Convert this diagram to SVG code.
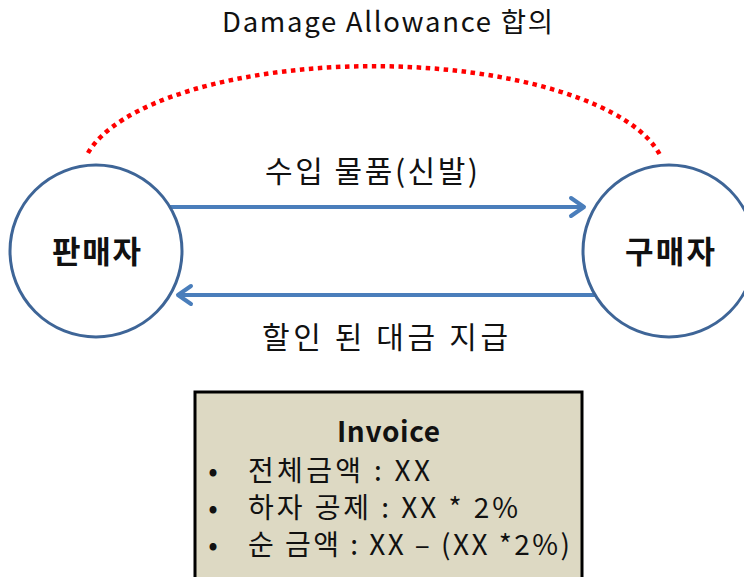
<svg xmlns="http://www.w3.org/2000/svg" width="744" height="577" viewBox="0 0 744 577">
<style>
.t{font-family:"Malgun Gothic","Noto Sans CJK KR","Noto Sans",sans-serif;fill:#111;}
.node{fill:#fff;stroke:#3e6597;stroke-width:3;}
.arr{stroke:#4a7ebb;stroke-width:4;fill:none;}
.head{stroke:#4a7ebb;stroke-width:4;fill:none;stroke-linecap:round;stroke-linejoin:round;}
</style>
<rect width="744" height="577" fill="#fff"/>
<g id="connectors">
<path d="M88,153 A292,110 0 0 1 660,155" fill="none" stroke="#ff0000" stroke-width="4.5" stroke-dasharray="4.5 4.5"/>
<line class="arr" x1="168" y1="207" x2="583" y2="207"/>
<polyline class="head" points="571,198 584,207 571,216"/>
<line class="arr" x1="598" y1="295" x2="180" y2="295"/>
<polyline class="head" points="191,286 178,295 191,304"/>
</g>
<g id="label-top"><text class="t" x="222" y="32" font-size="27.5" textLength="331" lengthAdjust="spacing">Damage Allowance 합의</text></g>
<g id="label-goods"><text class="t" x="265" y="182" font-size="30" textLength="213" lengthAdjust="spacing">수입 물품(신발)</text></g>
<g id="label-pay"><text class="t" x="262" y="348" font-size="30" textLength="246" lengthAdjust="spacing">할인 된 대금 지급</text></g>
<g id="seller">
<circle class="node" cx="96" cy="251" r="86"/>
<text class="t" x="52" y="263" font-size="31" font-weight="bold" textLength="89" lengthAdjust="spacing">판매자</text>
</g>
<g id="buyer">
<circle class="node" cx="669" cy="251" r="86"/>
<text class="t" x="625" y="263" font-size="31" font-weight="bold" textLength="90" lengthAdjust="spacing">구매자</text>
</g>
<g id="invoice">
<rect x="195" y="392" width="387" height="200" fill="#ddd9c3" stroke="#000" stroke-width="3"/>
<text class="t" x="337" y="442" font-size="28" font-weight="bold" textLength="103" lengthAdjust="spacing">Invoice</text>
<text class="t" x="213" y="481" font-size="28" text-anchor="middle">•</text>
<text class="t" x="248" y="481" font-size="28" textLength="182" lengthAdjust="spacing">전체금액 : XX</text>
<text class="t" x="213" y="518" font-size="28" text-anchor="middle">•</text>
<text class="t" x="248" y="518" font-size="28" textLength="270" lengthAdjust="spacing">하자 공제 : XX * 2%</text>
<text class="t" x="213" y="555" font-size="28" text-anchor="middle">•</text>
<text class="t" x="248" y="555" font-size="28" textLength="322" lengthAdjust="spacing">순 금액 : XX – (XX *2%)</text>
</g>
</svg>
